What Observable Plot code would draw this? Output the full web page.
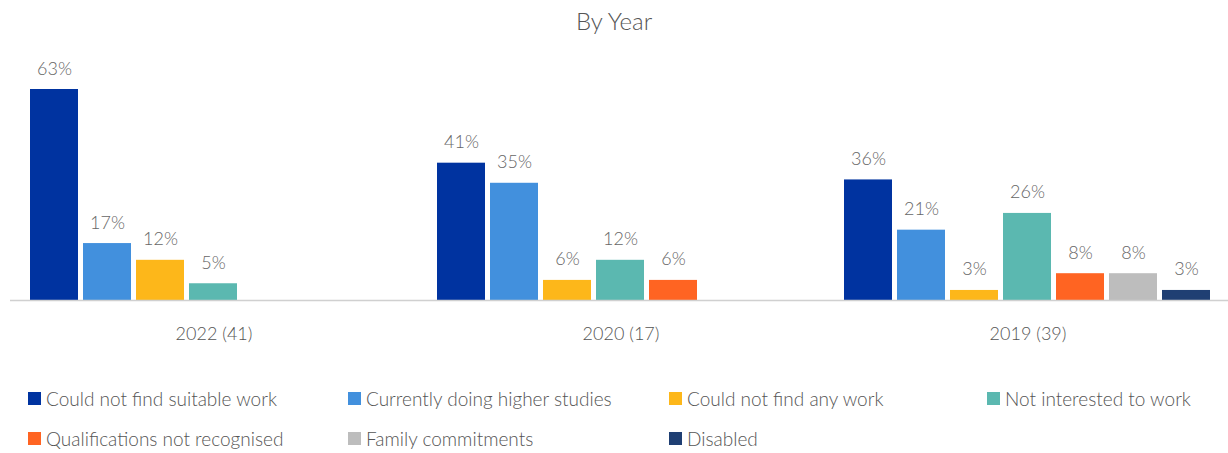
<!DOCTYPE html>
<html>
<head>
<meta charset="utf-8">
<script src="https://cdn.jsdelivr.net/npm/d3@7"></script>
<script src="https://cdn.jsdelivr.net/npm/@observablehq/plot@0.6"></script>
<style>
  body { margin: 0; background: #fff; font-family: Lato, "Open Sans", sans-serif; color: #555; }
  #title { height: 42px; line-height: 42px; text-align: center; font-size: 24px; color: #555; font-weight: 300; }
  #legend { display: grid; grid-template-columns: 320px 321px 318px 240px; padding-left: 28px; margin-top: 16px; }
  .item { height: 40px; display: flex; align-items: center; font-size: 19px; color: #555; font-weight: 300; }
  .sw { width: 13px; height: 13px; margin-right: 5px; flex: none; }
</style>
</head>
<body>
<div id="title">By Year</div>
<div id="chart"></div>
<div id="legend"></div>
<script>
const groups = ["2022 (41)", "2020 (17)", "2019 (39)"];
const categories = [
  "Could not find suitable work",
  "Currently doing higher studies",
  "Could not find any work",
  "Not interested to work",
  "Qualifications not recognised",
  "Family commitments",
  "Disabled"
];
const values2022 = [63, 17, 12, 5, null, null, null];
const values2020 = [41, 35, 6, 12, 6, null, null];
const values2019 = [36, 21, 3, 26, 8, 8, 3];
const palette = ["#0033A0", "#4290DD", "#FDB71A", "#5BB8B0", "#FF6422", "#BDBDBD", "#1F3F73"];

const series = [values2022, values2020, values2019];
const rows = [];
groups.forEach((g, gi) => {
  categories.forEach((c, ci) => {
    const v = series[gi][ci];
    if (v != null) rows.push({group: g, category: c, value: v});
  });
});

const plot = Plot.plot({
  width: 1228,
  height: 320,
  marginTop: 47,
  marginBottom: 62,
  marginLeft: 28,
  marginRight: 14,
  style: {fontFamily: "Lato, 'Open Sans', sans-serif", background: "transparent"},
  fx: {domain: groups, paddingInner: 0.093, paddingOuter: 0, label: null, axis: "bottom", tickSize: 0, tickPadding: 27},
  x: {domain: categories, paddingInner: 0.085, paddingOuter: 0, axis: null},
  y: {domain: [0, 63], axis: null},
  color: {domain: categories, range: palette},
  marks: [
    Plot.barY(rows, {fx: "group", x: "category", y: "value", fill: "category"}),
    Plot.text(rows, {fx: "group", x: "category", y: "value", text: d => d.value + "%", lineAnchor: "bottom", dy: -15, fontSize: 18, fontWeight: 300, fill: "#666"})
  ]
});

const svg = d3.select(plot);
svg.selectAll("g[aria-label='fx-axis tick label']").attr("font-size", 18).attr("fill", "#555").attr("font-weight", 300);
const y0 = plot.scale("y").apply(0);
svg.append("line")
  .attr("x1", 10).attr("x2", 1228)
  .attr("y1", y0 + 0.5).attr("y2", y0 + 0.5)
  .attr("stroke", "#d0d0d0").attr("stroke-width", 1.5);

document.getElementById("chart").appendChild(plot);

const legend = d3.select("#legend");
categories.forEach((c, i) => {
  const item = legend.append("div").attr("class", "item");
  item.append("div").attr("class", "sw").style("background", palette[i]);
  item.append("span").text(c);
});
</script>
</body>
</html>
